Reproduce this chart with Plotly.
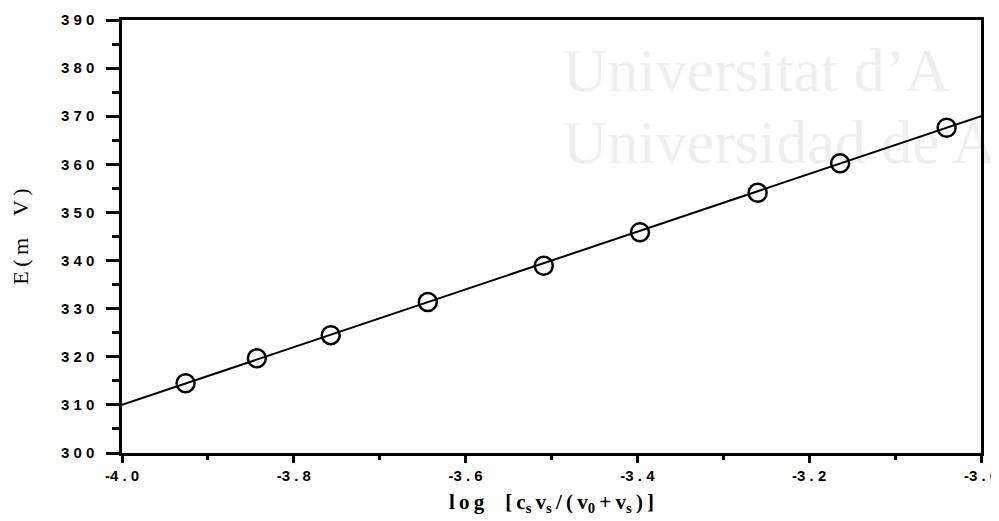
import plotly.graph_objects as go

# data
x_pts = [-3.926, -3.843, -3.757, -3.644, -3.509, -3.397, -3.260, -3.164, -3.040]
y_pts = [314.5, 319.7, 324.5, 331.4, 338.9, 345.9, 354.1, 360.2, 367.6]
fit_x = [-4.0, -3.0]
fit_y = [310.0, 370.0]

x_ticks = [-4.0, -3.8, -3.6, -3.4, -3.2, -3.0]
y_ticks = [300, 310, 320, 330, 340, 350, 360, 370, 380, 390]
x_ticktext = [f"{v:.1f}".replace(".", " . ") for v in x_ticks]
y_ticktext = [" ".join(str(v)) for v in y_ticks]

watermark = ["Universitat d’A", "Universidad de A"]
watermark_x = [-3.487, -3.487]
watermark_y = [378.4, 363.4]

TS = "\u2009"
x_title = (f"l{TS}o{TS}g\u2003[{TS}c<sub>s</sub>{TS}v<sub>s</sub>{TS}/{TS}({TS}v<sub>0</sub>"
           f"{TS}+{TS}v<sub>s</sub>{TS}){TS}]")
y_title = f"E{TS}({TS}m\u2003V{TS})"

fig = go.Figure()
fig.add_trace(go.Scatter(x=watermark_x, y=watermark_y, text=watermark, mode="text",
                         textposition="middle right", cliponaxis=False, hoverinfo="skip",
                         textfont=dict(family="Liberation Serif", size=62, color="#efefef"),
                         showlegend=False))
fig.add_trace(go.Scatter(x=fit_x, y=fit_y, mode="lines",
                         line=dict(color="black", width=2), showlegend=False))
fig.add_trace(go.Scatter(x=x_pts, y=y_pts, mode="markers",
                         marker=dict(symbol="circle-open", size=18, color="black",
                                     line=dict(color="black", width=2.5)),
                         showlegend=False))

axis_common = dict(showline=True, linecolor="black", linewidth=2.5, mirror=True,
                   showgrid=False, zeroline=False, ticks="outside", tickcolor="black",
                   tickwidth=2.5, automargin=False,
                   tickfont=dict(family="Liberation Sans", size=15, color="black", weight="bold"))

fig.update_xaxes(range=[-4.0, -3.0], tickvals=x_ticks, ticktext=x_ticktext, ticklen=7,
                 minor=dict(dtick=0.1, ticklen=4, tickwidth=2.5, tickcolor="black", ticks="outside"),
                 title=dict(text=x_title,
                            font=dict(family="Liberation Serif", size=21, color="black", weight="bold"),
                            standoff=12),
                 **axis_common)
fig.update_yaxes(range=[300, 390], tickvals=y_ticks, ticktext=y_ticktext, ticklen=13,
                 ticklabelstandoff=9,
                 minor=dict(dtick=5, ticklen=7, tickwidth=2.5, tickcolor="black", ticks="outside"),
                 title=dict(text=y_title,
                            font=dict(family="Liberation Serif", size=22, color="black"),
                            standoff=32),
                 **axis_common)

fig.update_layout(width=991, height=513, margin=dict(l=114, r=18, t=12, b=68),
                  plot_bgcolor="white", paper_bgcolor="white")

fig.write_html("out.html")
